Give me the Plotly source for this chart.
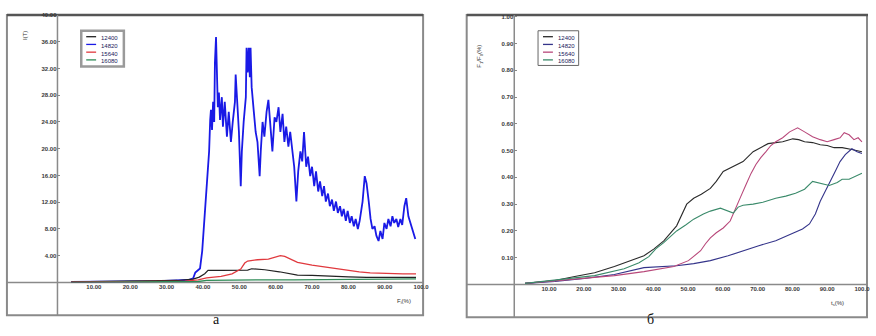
import plotly.graph_objects as go

W, H = 876, 336

# ---------------- data: panel a ----------------
a_names = ["12400", "14820", "15640", "16080"]
a_colors = ["#222222", "#1a1ae6", "#e0393e", "#2e8b57"]

a_black_x = [3.8, 15, 25, 33, 37.3, 39, 40.5, 41.4, 45, 50, 52.3, 53.4, 57, 61, 66, 70, 75, 80, 85, 90, 95, 98.6]
a_black_y = [0.1, 0.15, 0.2, 0.3, 0.5, 0.8, 1.3, 1.8, 1.8, 1.85, 1.85, 2.05, 1.9, 1.6, 1.1, 1.05, 1.0, 0.85, 0.75, 0.75, 0.75, 0.75]

a_blue_x = [3.8, 16.9, 27.8, 36, 37.3, 37.9, 38.7, 39.2, 39.8, 40.1, 40.3, 40.6, 40.9, 41.1, 41.4, 41.7, 42.0, 42.2,
            42.5, 42.8, 43.1, 43.3, 43.6, 43.9, 44.1, 44.4, 44.7, 45.2, 45.5, 46, 46.6, 47.1, 47.7, 48.2, 48.8, 49,
            49.3, 49.9, 50.4, 50.7, 51.2, 51.8, 52, 52.3, 52.6, 52.9, 53.1, 53.4, 54, 54.5, 55, 55.6, 55.9, 56.4,
            56.9, 57.5, 58, 58.6, 59.1, 59.7, 60.2, 60.8, 61.3, 61.9, 62.4, 62.9, 63.5, 64, 64.6, 65.1, 65.7, 66.2,
            66.8, 67.3, 67.8, 68.4, 68.9, 69.5, 70, 70.6, 71.1, 71.7, 72.2, 72.8, 73.3, 73.8, 74.4, 74.9, 75.5, 76,
            76.6, 77.1, 77.7, 78.2, 78.7, 79.3, 79.8, 80.4, 80.9, 81.5, 82, 82.6, 83.1, 83.9, 84.5, 85, 85.6, 86.1,
            86.6, 87.2, 87.7, 88.3, 88.8, 89.4, 89.9, 90.5, 91, 91.6, 92.1, 92.6, 93.2, 93.7, 94.3, 94.8, 95.4, 95.9,
            96.5, 97, 97.5, 98.1, 98.4]
a_blue_y = [0.07, 0.15, 0.2, 0.37, 0.6, 1.5, 1.8, 2.1, 4.7, 7.0, 8.0, 9.9, 12.1, 14.4, 16.9, 19.6, 24.3, 25.8,
            22.8, 27, 24, 32.9, 36.7, 31.4, 26.2, 28.4, 24.3, 27.7, 23.3, 27, 21.8, 25.5, 21, 24, 27, 31.1,
            27.7, 22.5, 14.4, 19.6, 24, 27.7, 35.1, 31.4, 35.1, 30.7, 35.1, 29.2, 25.5, 22.5, 21, 15.9, 19.6, 24,
            21.8, 25.5, 27.3, 23.3, 19.6, 24.7, 24, 26.2, 22.5, 25.2, 21, 23.3, 20.3, 22.5, 19.6, 17.3, 12.1, 16.6,
            19.6, 18.1, 22.5, 17.3, 18.8, 15.9, 17.3, 14.4, 16.6, 13.6, 15.1, 12.9, 14.4, 12.1, 13.3, 11.4, 12.4, 10.7,
            12.1, 10.4, 11.4, 9.9, 11, 9.2, 10.7, 8.9, 9.9, 8.4, 9.5, 8, 9.2, 12.1, 15.9, 14.8, 12.1, 9.5,
            8, 8.4, 7, 6.2, 7.7, 6.5, 8.9, 8, 9.5, 8.4, 9.9, 8.9, 9.5, 8.3, 9.5, 8.6, 11.4, 12.6,
            9.9, 8.9, 8, 7, 6.5]

a_red_x = [3.8, 15, 25, 35, 38.7, 41, 45, 48, 50.4, 51.5, 52.3, 55, 58, 60, 61.3, 62.5, 64, 66, 70, 75, 80, 83, 86, 90, 95, 98.6]
a_red_y = [0.05, 0.08, 0.12, 0.2, 0.4, 0.7, 0.9, 1.3, 2.0, 2.9, 3.2, 3.4, 3.5, 3.8, 4.0, 3.9, 3.5, 3.0, 2.6, 2.2, 1.8, 1.6, 1.45, 1.35, 1.3, 1.3]

a_green_x = [3.8, 30, 38.7, 41, 45, 55, 65, 75, 85, 95, 98.6]
a_green_y = [0.03, 0.08, 0.15, 0.3, 0.35, 0.4, 0.4, 0.45, 0.5, 0.5, 0.55]

a_xticks = [10, 20, 30, 40, 50, 60, 70, 80, 90, 100]
a_xticktext = ["10.00", "20.00", "30.00", "40.00", "50.00", "60.00", "70.00", "80.00", "90.00", "100.0"]
a_yticks = [4, 8, 12, 16, 20, 24, 28, 32, 36, 40]

# ---------------- data: panel b ----------------
b_names = ["12400", "14820", "15640", "16080"]
b_colors = ["#2a2a2a", "#34348a", "#b8487a", "#3a8a6a"]

b_black_x = [3.1, 11.7, 17.4, 23.1, 28.8, 34.5, 37.3, 40.2, 43, 46.7, 48.7, 49.6, 51.6, 53.8, 56.4, 58.1, 60.1, 63,
             65.8, 68.7, 71, 73, 75.2, 77.2, 80.1, 81.8, 83.5, 85.8, 88, 90, 92, 94.3, 97.1, 100]
b_black_y = [0.004, 0.015, 0.03, 0.044, 0.067, 0.093, 0.107, 0.133, 0.163, 0.219, 0.274, 0.3, 0.322, 0.337, 0.359,
             0.385, 0.422, 0.441, 0.459, 0.496, 0.511, 0.526, 0.530, 0.533, 0.544, 0.541, 0.533, 0.530, 0.522,
             0.519, 0.511, 0.511, 0.504, 0.496]

b_navy_x = [3.1, 11.7, 20.2, 28.8, 37.3, 46.7, 51.6, 56.4, 61.5, 65.8, 70.1, 75.2, 79.2, 82.9, 84.9, 86.6, 88,
            89.5, 90.9, 92.3, 93.7, 95.2, 97.1, 98.6, 100]
b_navy_y = [0.004, 0.011, 0.022, 0.037, 0.063, 0.07, 0.078, 0.089, 0.107, 0.126, 0.144, 0.163, 0.185, 0.207,
            0.226, 0.263, 0.311, 0.348, 0.385, 0.422, 0.459, 0.485, 0.507, 0.496, 0.489]

b_pink_x = [3.1, 17.4, 28.8, 37.3, 45.9, 50.1, 51.6, 53.6, 55, 56.4, 58.1, 60.1, 62.1, 63.8, 65.2, 66.7, 68.1,
            69.5, 70.9, 72.4, 73.8, 75.2, 77.2, 79.2, 81.5, 83.5, 85.8, 88, 90, 92, 93.7, 94.9, 96.3, 97.7, 98.9, 100]
b_pink_y = [0.004, 0.019, 0.033, 0.048, 0.067, 0.089, 0.104, 0.126, 0.152, 0.174, 0.193, 0.211, 0.237, 0.285,
            0.330, 0.374, 0.415, 0.448, 0.474, 0.496, 0.519, 0.533, 0.548, 0.570, 0.585, 0.570, 0.552, 0.541,
            0.533, 0.541, 0.548, 0.567, 0.559, 0.541, 0.548, 0.533]

b_green_x = [3.1, 14.5, 23.1, 31.6, 35.9, 38.7, 40.7, 43, 46.7, 49.3, 51.6, 54.4, 56.4, 59.3, 61, 63, 64.4, 65.8,
             68.7, 71.5, 75.2, 78.1, 80.9, 83.5, 85.8, 88, 90.6, 92.9, 94.3, 96.3, 98, 100]
b_green_y = [0.004, 0.019, 0.033, 0.059, 0.081, 0.104, 0.133, 0.156, 0.2, 0.222, 0.244, 0.263, 0.274, 0.285, 0.278,
             0.267, 0.289, 0.296, 0.3, 0.307, 0.322, 0.330, 0.341, 0.356, 0.385, 0.378, 0.370, 0.381, 0.393,
             0.393, 0.404, 0.415]

b_xticks = [10, 20, 30, 40, 50, 60, 70, 80, 90, 100]
b_xticktext = ["10.00", "20.00", "30.00", "40.00", "50.00", "60.00", "70.00", "80.00", "90.00", "100.0"]
b_yticks = [0.1, 0.2, 0.3, 0.4, 0.5, 0.6, 0.7, 0.8, 0.9, 1.0]

captions = ["а", "б"]
a_ytitle = "I(T)"
a_xtitle = "F<sub>i</sub>(%)"
b_ytitle = "F<sub>1</sub>/F<sub>0</sub>(%)"
b_xtitle = "t<sub>s</sub>(%)"


def px(x):
    return x / W


def py(y):
    return 1 - y / H


fig = go.Figure()

a_series = [(a_black_x, a_black_y), (a_blue_x, a_blue_y), (a_red_x, a_red_y), (a_green_x, a_green_y)]
a_widths = [1.2, 1.8, 1.3, 1.3]
for i in [1, 0, 2, 3]:
    xs, ys = a_series[i]
    fig.add_trace(go.Scatter(x=xs, y=ys, mode="lines", name=a_names[i], xaxis="x", yaxis="y",
                             line=dict(color=a_colors[i], width=a_widths[i]), showlegend=False))

b_series = [(b_black_x, b_black_y), (b_navy_x, b_navy_y), (b_pink_x, b_pink_y), (b_green_x, b_green_y)]
for i in range(4):
    xs, ys = b_series[i]
    fig.add_trace(go.Scatter(x=xs, y=ys, mode="lines", name=b_names[i], xaxis="x2", yaxis="y2",
                             line=dict(color=b_colors[i], width=1.1), showlegend=False))

tickfont = dict(family="Liberation Sans", size=6, color="#3a3a3a", weight="bold")

fig.update_layout(
    width=W, height=H, margin=dict(l=0, r=0, t=0, b=0),
    paper_bgcolor="white", plot_bgcolor="white",
    xaxis=dict(domain=[px(58), px(425)], range=[0, 100], tickvals=a_xticks, ticktext=a_xticktext,
               showgrid=False, zeroline=False, showline=False, ticks="", tickfont=tickfont, anchor="y"),
    yaxis=dict(domain=[py(282), py(12)], range=[0, 40], tickvals=a_yticks, tickformat=".2f",
               showgrid=False, zeroline=False, showline=False, ticks="inside", ticklen=3, tickcolor="#888",
               tickfont=tickfont, anchor="x"),
    xaxis2=dict(domain=[px(519), px(872)], range=[0, 100.6], tickvals=b_xticks, ticktext=b_xticktext,
                showgrid=False, zeroline=False, showline=False, ticks="", tickfont=tickfont, anchor="y2"),
    yaxis2=dict(domain=[py(284), py(12)], range=[0, 1.007], tickvals=b_yticks, tickformat=".2f",
                showgrid=False, zeroline=False, showline=False, ticks="inside", ticklen=3, tickcolor="#888",
                tickfont=tickfont, anchor="x2"),
)

shapes = []


def frame(x0, y0, x1, y1, color="#8a8a8a", width=2):
    shapes.append(dict(type="rect", xref="paper", yref="paper", x0=px(x0), x1=px(x1), y0=py(y1), y1=py(y0),
                       line=dict(color=color, width=width), fillcolor="rgba(0,0,0,0)", layer="below"))


def hline(x0, x1, y, color="#8a8a8a", width=1.5):
    shapes.append(dict(type="line", xref="paper", yref="paper", x0=px(x0), x1=px(x1), y0=py(y), y1=py(y),
                       line=dict(color=color, width=width), layer="below"))


def vline(x, y0, y1, color="#8a8a8a", width=1.5):
    shapes.append(dict(type="line", xref="paper", yref="paper", x0=px(x), x1=px(x), y0=py(y0), y1=py(y1),
                       line=dict(color=color, width=width), layer="below"))


frame(7, 12, 427, 315)
hline(7, 427, 12, color="#555555", width=2.5)
vline(58, 12, 315)
hline(7, 427, 282)
frame(471, 12, 875, 317)
hline(471, 876, 12, color="#555555", width=2.5)
vline(519, 12, 317)
hline(471, 875, 284)

annotations = []


def legend(x0, y0, x1, y1, names, colors, border, bw):
    shapes.append(dict(type="rect", xref="paper", yref="paper", x0=px(x0), x1=px(x1), y0=py(y1), y1=py(y0),
                       line=dict(color=border, width=bw), fillcolor="white", layer="below"))
    step = 7.8
    for k, c in enumerate(colors):
        yy = y0 + 6 + k * step
        shapes.append(dict(type="line", xref="paper", yref="paper", x0=px(x0 + 5), x1=px(x0 + 15),
                           y0=py(yy), y1=py(yy), line=dict(color=c, width=1.3), layer="below"))
    annotations.append(dict(xref="paper", yref="paper", x=px(x0 + 18), y=py(y0 + 2), text="<br>".join(names),
                            showarrow=False, xanchor="left", yanchor="top", align="left",
                            font=dict(family="Liberation Sans", size=6, color="#20205a")))


legend(82, 28, 125, 64, a_names, a_colors, "#9a9a9a", 2.5)
legend(543, 28, 584, 63, b_names, b_colors, "#666666", 1)

title_font = dict(family="Liberation Sans", size=6, color="#333")
annotations.append(dict(xref="paper", yref="paper", x=px(20), y=py(26), text=a_ytitle, textangle=-90,
                        showarrow=False, font=title_font))
annotations.append(dict(xref="paper", yref="paper", x=px(408), y=py(307), text=a_xtitle,
                        showarrow=False, font=title_font))
annotations.append(dict(xref="paper", yref="paper", x=px(484), y=py(40), text=b_ytitle, textangle=-90,
                        showarrow=False, font=title_font))
annotations.append(dict(xref="paper", yref="paper", x=px(854), y=py(309), text=b_xtitle,
                        showarrow=False, font=title_font))

annotations.append(dict(xref="paper", yref="paper", x=px(213), y=py(329), text=captions[0], showarrow=False,
                        font=dict(family="Liberation Serif", size=14, color="#111")))
annotations.append(dict(xref="paper", yref="paper", x=px(662), y=py(329), text=captions[1], showarrow=False,
                        font=dict(family="Liberation Serif", size=14, color="#111")))

fig.update_layout(shapes=shapes, annotations=annotations)
fig.write_html("out.html")
